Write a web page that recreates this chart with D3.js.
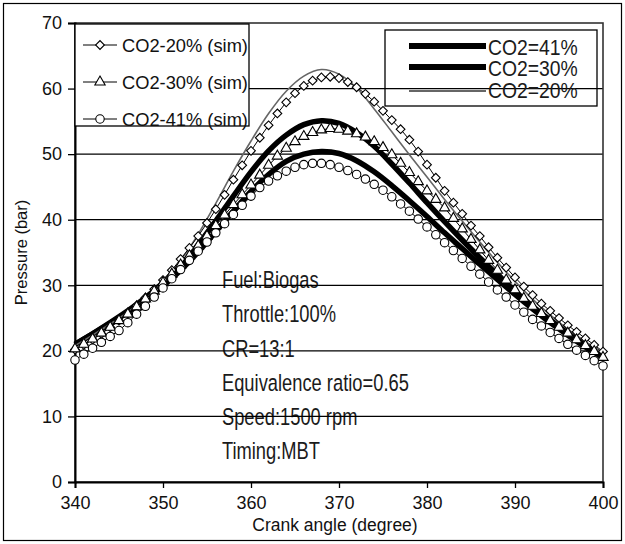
<!DOCTYPE html>
<html>
<head>
<meta charset="utf-8">
<script src="https://cdn.jsdelivr.net/npm/d3@7"></script>
<style>
  body { margin: 0; background: #fff; }
  svg { display: block; }
</style>
</head>
<body>
<div id="chart"></div>
<script>
// crank angles for the simulated points (1 degree steps) and the measured curves (2 degree steps)
var simAngles = d3.range(340, 401);
var expAngles = d3.range(340, 401, 2);

// simulated pressure (bar), markers
var sim20 = [20.2, 20.9, 21.7, 22.6, 23.6, 24.6, 25.7, 26.9, 28.1, 29.4,
             30.8, 32.3, 34.0, 35.7, 37.5, 39.5, 41.6, 43.8, 46.1, 48.3,
             50.5, 52.5, 54.4, 56.2, 57.9, 59.3, 60.4, 61.2, 61.7, 61.8,
             61.6, 61.0, 60.2, 59.2, 58.0, 56.6, 55.2, 53.8, 52.2, 50.4,
             48.4, 46.4, 44.4, 42.6, 40.9, 39.1, 37.5, 35.8, 34.2, 32.7,
             31.2, 29.8, 28.5, 27.2, 26.1, 25.0, 23.9, 22.9, 21.9, 20.9,
             19.9];
var sim30 = [20.3, 21.0, 21.8, 22.7, 23.6, 24.6, 25.6, 26.7, 27.9, 29.1,
             30.4, 31.7, 33.1, 34.5, 36.0, 37.5, 39.1, 40.7, 42.3, 43.8,
             45.3, 46.8, 48.3, 49.7, 50.9, 51.9, 52.7, 53.3, 53.7, 53.9,
             53.8, 53.5, 53.1, 52.6, 51.9, 51.0, 49.9, 48.6, 47.2, 45.8,
             44.4, 43.1, 41.8, 40.2, 38.6, 37.0, 35.4, 33.8, 32.3, 30.8,
             29.3, 28.0, 26.8, 25.7, 24.6, 23.6, 22.7, 21.7, 20.8, 19.9,
             19.0];
var sim41 = [18.6, 19.5, 20.4, 21.3, 22.2, 23.1, 24.3, 25.6, 26.8, 28.2,
             29.6, 31.0, 32.4, 33.8, 35.2, 36.6, 38.0, 39.4, 40.8, 42.2,
             43.6, 44.9, 45.9, 46.7, 47.4, 48.0, 48.4, 48.6, 48.6, 48.4,
             48.0, 47.5, 46.9, 46.2, 45.4, 44.5, 43.5, 42.4, 41.3, 40.1,
             38.9, 37.7, 36.5, 35.3, 34.1, 32.9, 31.7, 30.5, 29.3, 28.2,
             27.0, 25.9, 24.8, 23.8, 22.8, 21.9, 21.0, 20.1, 19.3, 18.5,
             17.7];

// measured pressure (bar), plain lines
var exp20 = [20.8, 22.4, 24.1, 25.9, 28.0, 30.6, 33.8, 37.8, 42.5, 47.4,
             52.0, 56.2, 59.6, 61.9, 62.9, 62.2, 60.1, 56.9, 53.4, 49.9,
             46.5, 43.1, 39.8, 36.6, 33.5, 30.6, 27.9, 25.5, 23.3, 21.4, 19.6];
var exp30 = [21.0, 22.6, 24.3, 26.1, 28.1, 30.4, 33.0, 36.2, 39.8, 43.6,
             47.3, 50.5, 52.9, 54.5, 55.1, 54.7, 53.3, 51.2, 48.5, 45.6,
             42.6, 39.7, 36.9, 34.2, 31.6, 29.1, 26.8, 24.7, 22.8, 21.0, 19.4];
var exp41 = [21.0, 22.6, 24.2, 25.9, 27.8, 29.9, 32.3, 35.1, 38.2, 41.3,
             44.3, 46.9, 48.9, 50.0, 50.4, 50.1, 49.0, 47.3, 45.2, 42.9,
             40.5, 38.0, 35.6, 33.2, 30.9, 28.6, 26.4, 24.3, 22.4, 20.6, 19.0];

var xTicks = [340, 350, 360, 370, 380, 390, 400];
var yTicks = [0, 10, 20, 30, 40, 50, 60, 70];
var gridTicks = [10, 20, 30, 40, 50, 60];
var simNames = ["CO2-20% (sim)", "CO2-30% (sim)", "CO2-41% (sim)"];
var expNames = ["CO2=41%", "CO2=30%", "CO2=20%"];
var notes = ["Fuel:Biogas", "Throttle:100%", "CR=13:1", "Equivalence ratio=0.65", "Speed:1500 rpm", "Timing:MBT"];

var W = 625, H = 544;
var margin = {top: 23, right: 22, bottom: 62, left: 75};
var width = W - margin.left - margin.right,
    height = H - margin.top - margin.bottom;
var font = "'Liberation Sans', Arial, sans-serif";

var svg = d3.select("#chart").append("svg").attr("width", W).attr("height", H);

svg.append("rect").attr("x", 3.5).attr("y", 3.5).attr("width", W - 7).attr("height", H - 7)
  .attr("fill", "#fff").attr("stroke", "#000").attr("stroke-width", 1.2);

var g = svg.append("g").attr("transform", "translate(" + margin.left + "," + margin.top + ")");

var x = d3.scaleLinear().domain([340, 400]).range([0, width]);
var y = d3.scaleLinear().domain([0, 70]).range([height, 0]);

// notes sit under the gridlines, drawn in a squeezed face
g.append("g").attr("font-family", font).attr("font-size", 23.5).attr("fill", "#1b1b1b")
  .selectAll("text").data(notes).enter().append("text")
    .attr("transform", function(d, i) {
      return "translate(" + x(356.7) + "," + (y(30) + 3 + i * 34.2) + ") scale(0.78,1)";
    })
    .text(function(d) { return d; });

// gridlines
g.append("g").selectAll("line").data(gridTicks).enter().append("line")
  .attr("x1", 0).attr("x2", width)
  .attr("y1", function(d) { return y(d); }).attr("y2", function(d) { return y(d); })
  .attr("stroke", "#000").attr("stroke-width", 1.3);

// plot frame (top / right)
g.append("rect").attr("width", width).attr("height", height)
  .attr("fill", "none").attr("stroke", "#333").attr("stroke-width", 1.6);

var xAxis = g.append("g").attr("transform", "translate(0," + height + ")")
  .call(d3.axisBottom(x).tickValues(xTicks).tickSize(6).tickPadding(8).tickFormat(d3.format("d")));
var yAxis = g.append("g")
  .call(d3.axisLeft(y).tickValues(yTicks).tickSize(7).tickPadding(6));
[xAxis, yAxis].forEach(function(a) {
  a.select(".domain").attr("stroke", "#000").attr("stroke-width", 2);
  a.selectAll(".tick line").attr("stroke", "#000").attr("stroke-width", 1.3);
  a.selectAll("text").attr("font-family", font).attr("font-size", 18).attr("fill", "#111");
});

svg.append("text").attr("x", margin.left + width / 2 - 4).attr("y", 531)
  .attr("text-anchor", "middle").attr("font-family", font)
  .attr("font-size", 17.5).attr("fill", "#111").text("Crank angle (degree)");
svg.append("text").attr("transform", "translate(27," + (margin.top + height / 2) + ") rotate(-90)")
  .attr("text-anchor", "middle").attr("font-family", font)
  .attr("font-size", 16.5).attr("fill", "#111").text("Pressure (bar)");

// measured curves
var expLine = d3.line().x(function(d, i) { return x(expAngles[i]); }).y(function(d) { return y(d); })
  .curve(d3.curveCatmullRom);
g.append("path").datum(exp41).attr("d", expLine).attr("fill", "none").attr("stroke", "#000").attr("stroke-width", 5.5);
g.append("path").datum(exp30).attr("d", expLine).attr("fill", "none").attr("stroke", "#000").attr("stroke-width", 5.5);
g.append("path").datum(exp20).attr("d", expLine).attr("fill", "none").attr("stroke", "#666").attr("stroke-width", 1.6);

// simulated curves with markers
var simLine = d3.line().x(function(d, i) { return x(simAngles[i]); }).y(function(d) { return y(d); });
var shapes = [
  {data: sim20, type: d3.symbolSquare, size: 38, rot: 45},
  {data: sim30, type: d3.symbolTriangle, size: 46, rot: 0},
  {data: sim41, type: d3.symbolCircle, size: 56, rot: 0}
];
shapes.forEach(function(s) {
  g.append("path").datum(s.data).attr("d", simLine).attr("fill", "none").attr("stroke", "#000").attr("stroke-width", 1);
  g.append("g").selectAll("path").data(s.data).enter().append("path")
    .attr("transform", function(d, i) { return "translate(" + x(simAngles[i]) + "," + y(d) + ") rotate(" + s.rot + ")"; })
    .attr("d", d3.symbol().type(s.type).size(s.size))
    .attr("fill", "#fff").attr("stroke", "#000").attr("stroke-width", 1.1);
});

// left legend (simulation)
var lg = g.append("g");
lg.append("rect").attr("x", 0).attr("y", 1).attr("width", 174).attr("height", 102)
  .attr("fill", "#fff").attr("stroke", "#000").attr("stroke-width", 1.3);
shapes.forEach(function(s, i) {
  var yy = 22 + i * 37;
  lg.append("line").attr("x1", 8).attr("x2", 42).attr("y1", yy).attr("y2", yy).attr("stroke", "#000").attr("stroke-width", 1);
  lg.append("path").attr("transform", "translate(25," + yy + ") rotate(" + s.rot + ")")
    .attr("d", d3.symbol().type(s.type).size(s.size))
    .attr("fill", "#fff").attr("stroke", "#000").attr("stroke-width", 1.1);
  lg.append("text").attr("x", 47).attr("y", yy + 6.5).attr("font-family", font)
    .attr("font-size", 18.3).attr("fill", "#111").text(simNames[i]);
});

// right legend (measured)
var rg = g.append("g").attr("transform", "translate(310,0)");
rg.append("rect").attr("x", 0).attr("y", 7).attr("width", 212).attr("height", 76)
  .attr("fill", "none").attr("stroke", "#000").attr("stroke-width", 1.3);
var expStyles = [{w: 6, c: "#000"}, {w: 6, c: "#000"}, {w: 1.8, c: "#666"}];
expStyles.forEach(function(s, i) {
  var yy = [23, 44, 68][i];
  rg.append("line").attr("x1", 24).attr("x2", 101).attr("y1", yy).attr("y2", yy)
    .attr("stroke", s.c).attr("stroke-width", s.w);
  rg.append("text").attr("transform", "translate(103," + [32, 53, 75][i] + ") scale(0.9,1)")
    .attr("font-family", font).attr("font-size", 21.5).attr("fill", "#1b1b1b").text(expNames[i]);
});
</script>
</body>
</html>
